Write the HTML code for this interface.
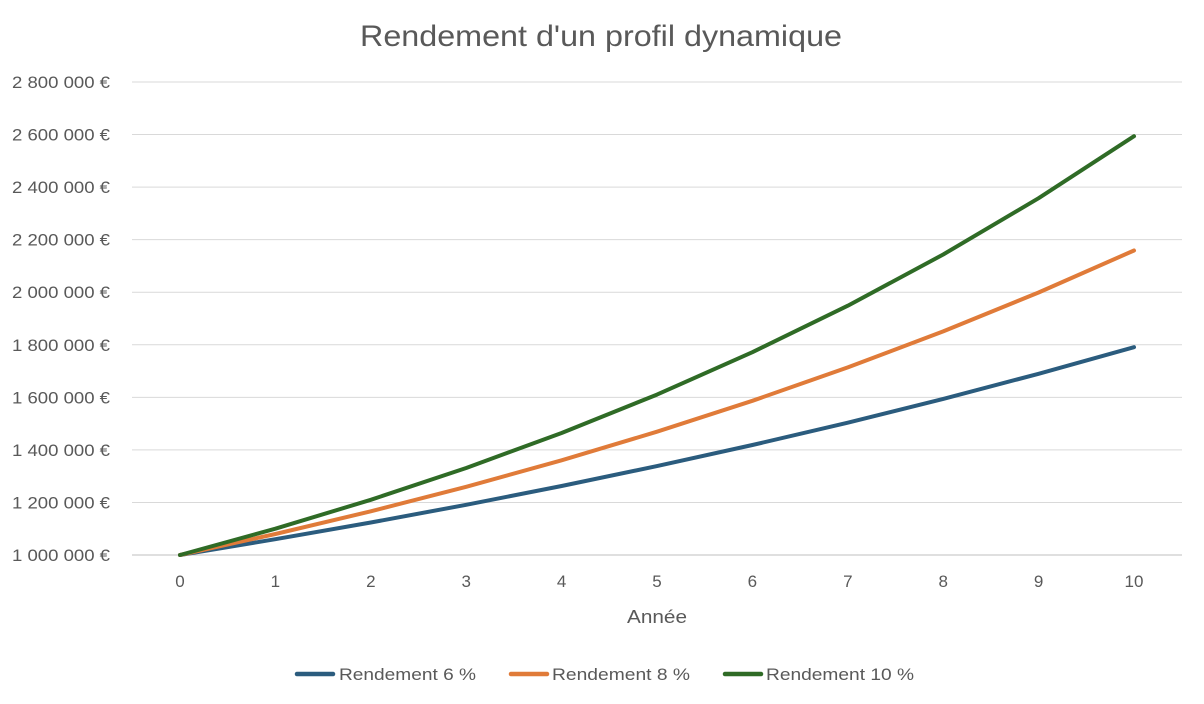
<!DOCTYPE html>
<html><head><meta charset="utf-8"><style>
html,body{margin:0;padding:0;background:#fff;}
svg{display:block;font-family:"Liberation Sans",sans-serif;}
</style></head><body>
<svg id="c" width="1204" height="704" viewBox="0 0 1204 704" xmlns="http://www.w3.org/2000/svg">
<text x="360" y="46" font-size="30" fill="#595959" textLength="482" lengthAdjust="spacingAndGlyphs">Rendement d'un profil dynamique</text>
<g id="grid"></g>
<g id="series"></g>
<text x="627" y="623" font-size="18" fill="#595959" textLength="60" lengthAdjust="spacingAndGlyphs">Année</text>
<line x1="297" y1="674" x2="333" y2="674" stroke="#2B5C7E" stroke-width="4.5" stroke-linecap="round"/>
<text x="339" y="680" font-size="17" fill="#595959" textLength="137" lengthAdjust="spacingAndGlyphs">Rendement 6 %</text>
<line x1="511" y1="674" x2="547" y2="674" stroke="#E07B39" stroke-width="4.5" stroke-linecap="round"/>
<text x="552" y="680" font-size="17" fill="#595959" textLength="138" lengthAdjust="spacingAndGlyphs">Rendement 8 %</text>
<line x1="725" y1="674" x2="761" y2="674" stroke="#2F6B26" stroke-width="4.5" stroke-linecap="round"/>
<text x="766" y="680" font-size="17" fill="#595959" textLength="148" lengthAdjust="spacingAndGlyphs">Rendement 10 %</text>
</svg>
<script>
var ns="http://www.w3.org/2000/svg";
var g=document.getElementById("grid"),s=document.getElementById("series");
function Y(v){return 555-(v-1e6)/2e5*52.556;}
function X(i){return 180+i*95.4;}
var labels=["1 000 000 €","1 200 000 €","1 400 000 €","1 600 000 €","1 800 000 €","2 000 000 €","2 200 000 €","2 400 000 €","2 600 000 €","2 800 000 €"];
for(var k=0;k<10;k++){
 var y=Y(1e6+k*2e5);
 var l=document.createElementNS(ns,"line");
 l.setAttribute("x1",132);l.setAttribute("x2",1182);l.setAttribute("y1",y);l.setAttribute("y2",y);
 l.setAttribute("stroke",k==0?"#bfbfbf":"#d9d9d9");l.setAttribute("stroke-width",1);g.appendChild(l);
 var t=document.createElementNS(ns,"text");t.setAttribute("x",12);t.setAttribute("y",y+6);
 t.setAttribute("font-size","17");t.setAttribute("fill","#595959");
 t.setAttribute("textLength","98");t.setAttribute("lengthAdjust","spacingAndGlyphs");
 t.textContent=labels[k];g.appendChild(t);
}
for(var i=0;i<=10;i++){
 var t=document.createElementNS(ns,"text");t.setAttribute("x",X(i));t.setAttribute("y",587);
 t.setAttribute("text-anchor","middle");t.setAttribute("font-size","17");t.setAttribute("fill","#595959");
 t.textContent=i;g.appendChild(t);
}
[[1.06,"#2B5C7E"],[1.08,"#E07B39"],[1.10,"#2F6B26"]].forEach(function(r){
 var d="";for(var i=0;i<=10;i++){d+=(i?"L":"M")+X(i).toFixed(1)+" "+Y(1e6*Math.pow(r[0],i)).toFixed(1);}
 var p=document.createElementNS(ns,"path");p.setAttribute("d",d);p.setAttribute("fill","none");
 p.setAttribute("stroke",r[1]);p.setAttribute("stroke-width",4);p.setAttribute("stroke-linejoin","round");p.setAttribute("stroke-linecap","round");
 s.appendChild(p);
});
</script>
</body></html>
